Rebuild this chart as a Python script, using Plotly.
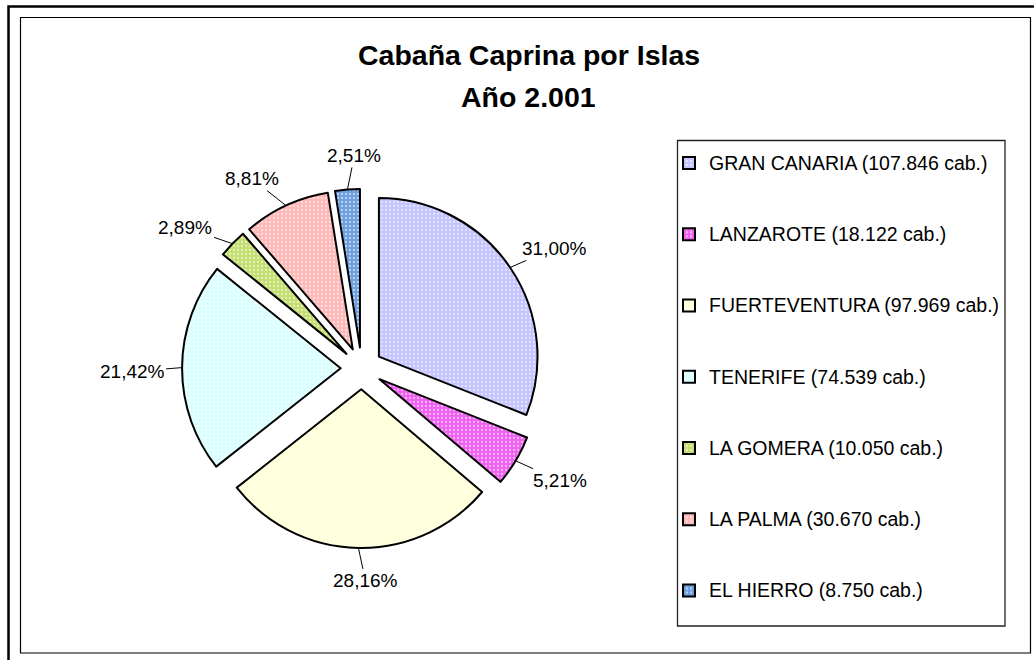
import plotly.graph_objects as go
import math

# ---------------- data ----------------
islands = ["GRAN CANARIA", "LANZAROTE", "FUERTEVENTURA", "TENERIFE",
           "LA GOMERA", "LA PALMA", "EL HIERRO"]
heads = [107846, 18122, 97969, 74539, 10050, 30670, 8750]
title_lines = ["Cabaña Caprina por Islas", "Año 2.001"]

# ---------------- style ----------------
colors = ["#c4c4ff", "#f060f0", "#ffffd8", "#daffff", "#c4de70", "#ffb8b8", "#6c9ee0"]
W, H = 1034, 660
PIE_CX, PIE_CY, PIE_R = 361.6, 368.4, 158.6   # px
PULL = 0.132
FONT = "Liberation Sans, Arial, sans-serif"
LABEL_SIZE = 19
LEG_TEXT = 19.5
LEG_F = 17.5
# offsets (px) of each percentage label from its slice's outer mid-point
label_offsets = [(44, -19), (44, 20), (7, 33), (-50, 4), (-47, -16), (-34, -27), (7, -34)]

total = sum(heads)
pct = [v / total * 100 for v in heads]
pct_text = [f"{p:.2f}".replace(".", ",") + "%" for p in pct]
leg_labels = ["\u00a0<br><span style='font-size:%.1fpx'>%s (%s cab.)</span><br>\u00a0"
              % (LEG_TEXT, n, f"{v:,}".replace(",", ".")) for n, v in zip(islands, heads)]

half = PIE_R * (1 + PULL)
domain_x = [(PIE_CX - half) / W, (PIE_CX + half) / W]
domain_y = [1 - (PIE_CY + half) / H, 1 - (PIE_CY - half) / H]

fig = go.Figure()
fig.add_trace(go.Pie(
    labels=leg_labels,
    values=heads,
    sort=False,
    direction="clockwise",
    rotation=0,
    pull=PULL,
    textinfo="none",
    hoverinfo="none",
    domain=dict(x=domain_x, y=domain_y),
    marker=dict(
        colors=colors,
        line=dict(color="black", width=2),
        pattern=dict(shape=".", fillmode="overlay", fgcolor="white",
                     fgopacity=0.55, size=4, solidity=0.25),
    ),
))

# percentage labels with leader lines, placed from cumulative angles
annotations = []
cum = 0.0
for i, v in enumerate(heads):
    mid = (cum + v / 2) / total * 2 * math.pi
    cum += v
    px = PIE_CX + half * math.sin(mid)
    py = PIE_CY - half * math.cos(mid)
    dx, dy = label_offsets[i]
    annotations.append(dict(
        x=px / W, y=1 - py / H, xref="paper", yref="paper",
        text=pct_text[i], showarrow=True, arrowhead=0, arrowwidth=1,
        arrowcolor="black", ax=dx, ay=dy, standoff=0, startstandoff=0,
        font=dict(family=FONT, size=LABEL_SIZE, color="black"),
    ))

# title
for j, (t, ypx) in enumerate(zip(title_lines, [55, 97])):
    annotations.append(dict(
        x=528.5 / W, y=1 - ypx / H, xref="paper", yref="paper",
        text="<b>%s</b>" % t, showarrow=False, xanchor="center", yanchor="middle",
        font=dict(family=FONT, size=28.5, color="black"),
    ))

shapes = [
    # outer frame
    dict(type="rect", xref="paper", yref="paper", x0=8.5 / W, x1=1.02,
         y0=-0.02, y1=1 - 6.5 / H, line=dict(color="black", width=2.5)),
    # inner frame
    dict(type="rect", xref="paper", yref="paper", x0=20.5 / W, x1=1030.5 / W,
         y0=1 - 653 / H, y1=1 - 17.5 / H, line=dict(color="black", width=1.2)),
    # legend box
    dict(type="rect", xref="paper", yref="paper", x0=677.5 / W, x1=1005 / W,
         y0=1 - 626 / H, y1=1 - 140.5 / H, line=dict(color="#222222", width=1.3)),
]

fig.update_layout(
    width=W, height=H, autosize=False,
    margin=dict(l=0, r=0, t=0, b=0),
    paper_bgcolor="white", plot_bgcolor="white",
    font=dict(family=FONT, color="black"),
    showlegend=True,
    legend=dict(
        x=669 / W, y=1 - 122.4 / H, xanchor="left", yanchor="top",
        bgcolor="rgba(0,0,0,0)", borderwidth=0,
        font=dict(family=FONT, size=LEG_F, color="black"),
        valign="middle",
    ),
    annotations=annotations,
    shapes=shapes,
)

fig.write_html("out.html", config={"displayModeBar": False},
               post_script="document.body.style.margin='0';document.body.style.overflow='hidden';")
